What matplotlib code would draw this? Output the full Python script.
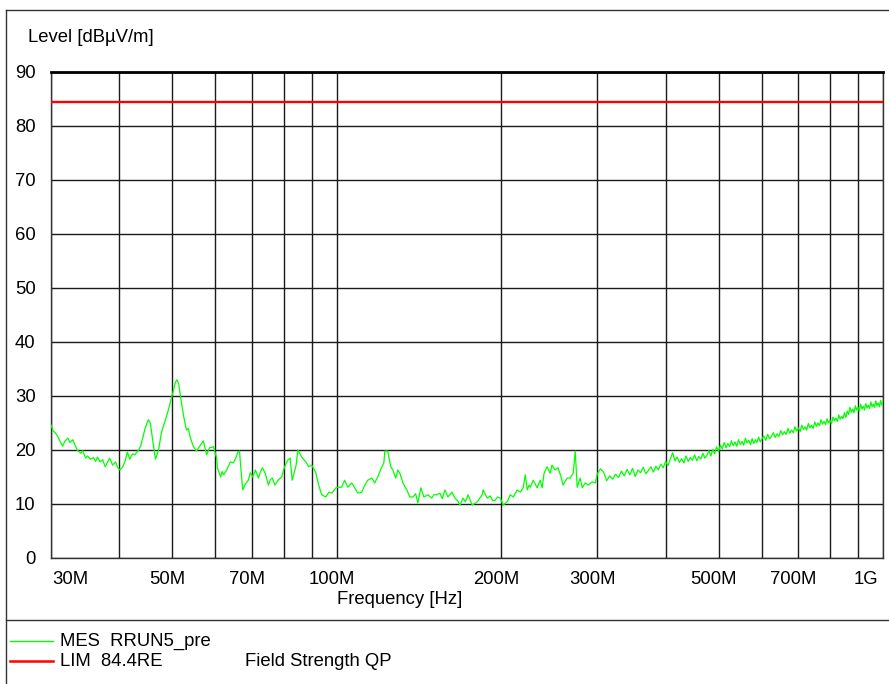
import numpy as np
import matplotlib.pyplot as plt
from matplotlib.lines import Line2D
from matplotlib.transforms import ScaledTranslation

plt.rcParams['font.family'] = ['Liberation Sans', 'DejaVu Sans']

# Measured trace, 30 MHz .. 100 MHz
freq_low = [30.0, 30.3, 30.6, 30.9, 31.2, 31.5, 31.8, 32.2, 32.5, 32.9, 33.2, 33.5, 34.0, 34.3,
            34.7, 35.0, 35.4, 35.9, 36.2, 36.5, 36.9, 37.3, 37.7, 38.0, 38.4, 38.9, 39.4, 39.7,
            40.1, 40.6, 41.0, 41.4, 41.8, 42.3, 42.7, 43.4, 43.8, 44.2, 44.6, 45.2, 45.6, 46.1,
            46.6, 47.2, 47.8, 48.6, 49.2, 49.9, 50.7, 51.0, 51.4, 51.8, 52.5, 53.1, 53.5, 54.0,
            54.7, 55.4, 56.3, 57.0, 57.8, 58.5, 59.5, 60.3, 60.5, 61.3, 61.7, 62.1, 62.9, 63.9,
            64.7, 65.3, 65.9, 66.4, 66.7, 67.3, 68.0, 68.9, 69.5, 70.2, 71.0, 71.9, 72.5, 73.1,
            74.0, 75.0, 75.6, 76.2, 77.1, 78.1, 79.3, 80.3, 81.3, 82.2, 82.9, 84.3, 84.9, 86.3,
            87.8, 88.9, 90.0, 91.5, 92.7, 93.9, 95.5, 96.8, 98.0, 99.7]
level_low = [24.6, 23.5, 23.1, 22.4, 21.5, 20.7, 21.6, 22.2, 21.4, 21.9, 20.9, 20.0, 19.4, 19.9,
             18.5, 18.9, 18.3, 18.6, 17.9, 18.7, 17.8, 18.2, 16.9, 17.6, 18.5, 17.2, 17.8, 16.8,
             16.3, 16.9, 18.0, 19.6, 18.3, 19.3, 19.1, 20.0, 20.8, 22.4, 24.0, 25.6, 25.0, 21.5,
             18.3, 20.0, 23.3, 25.6, 27.4, 29.8, 32.6, 33.0, 32.2, 29.8, 26.1, 23.7, 24.0, 22.2,
             20.6, 19.8, 20.9, 21.7, 19.1, 20.4, 20.6, 18.5, 16.7, 15.0, 16.0, 15.4, 16.3, 17.8,
             17.6, 18.4, 19.6, 19.8, 17.2, 12.6, 13.6, 14.4, 15.8, 15.0, 16.3, 14.8, 15.9, 16.7,
             15.7, 13.5, 14.5, 14.8, 13.5, 14.4, 15.0, 16.9, 18.1, 18.5, 14.4, 17.2, 20.0, 18.7,
             17.8, 16.9, 17.2, 15.9, 13.5, 11.7, 11.3, 12.2, 12.0, 13.0]

# 100 MHz .. 300 MHz
freq_mid = [100.5, 102.1, 103.4, 104.8, 106.5, 107.9, 109.3, 111.1, 112.6, 114.0, 116.0, 117.4,
            118.9, 121.0, 122.0, 122.5, 124.0, 125.6, 126.7, 128.3, 129.4, 130.5, 132.2, 134.4,
            136.1, 137.9, 139.5, 140.8, 142.6, 144.4, 146.9, 149.3, 150.6, 152.5, 154.5, 156.0,
            157.8, 159.8, 162.5, 164.6, 166.5, 168.1, 170.3, 172.0, 174.0, 177.0, 180.8, 182.5,
            184.6, 185.4, 188.6, 191.0, 193.0, 195.1, 197.0, 199.2, 201.8, 205.2, 207.8, 210.5,
            214.0, 216.8, 219.5, 221.4, 223.3, 225.1, 226.1, 229.0, 232.8, 235.8, 237.7, 239.7,
            242.7, 245.9, 247.8, 251.0, 254.2, 257.5, 259.6, 264.1, 267.5, 271.0, 273.3, 275.6,
            279.1, 281.5, 285.1, 288.7, 293.7, 297.5]
level_mid = [13.1, 13.1, 14.4, 13.1, 13.9, 13.0, 12.0, 12.2, 13.5, 14.4, 14.8, 13.9,
             15.0, 16.9, 17.6, 19.8, 19.8, 16.9, 16.3, 14.8, 16.3, 15.7, 13.9, 12.6,
             11.3, 11.3, 11.9, 10.2, 13.0, 11.3, 11.7, 11.1, 11.7, 11.7, 12.0, 11.0,
             12.6, 11.3, 12.2, 11.1, 10.6, 9.8, 11.1, 10.4, 11.7, 9.8, 10.4, 11.0,
             11.7, 12.6, 11.1, 11.5, 10.6, 10.7, 11.3, 11.1, 9.8, 10.4, 11.7, 11.3,
             12.6, 12.2, 13.0, 15.4, 12.6, 13.5, 13.1, 14.4, 13.0, 14.4, 13.0, 15.7,
             16.9, 15.7, 17.2, 16.3, 16.7, 15.0, 13.5, 14.8, 14.8, 15.7, 19.8, 13.1,
             14.8, 13.0, 13.9, 13.5, 14.1, 13.9]

# 300 MHz .. 600 MHz, 4 MHz steps
freq_high = [300, 304, 308, 312, 316, 320, 324, 328, 332, 336, 340, 344, 348, 352, 356, 360,
             364, 368, 372, 376, 380, 384, 388, 392, 396, 400, 404, 408, 412, 416, 420, 424,
             428, 432, 436, 440, 444, 448, 452, 456, 460, 464, 468, 472, 476, 480, 484, 488,
             492, 496, 500, 504, 508, 512, 516, 520, 524, 528, 532, 536, 540, 544, 548, 552,
             556, 560, 564, 568, 572, 576, 580, 584, 588, 592, 596]
level_high = [15.6, 16.5, 15.9, 14.3, 15.2, 14.6, 15.5, 14.9, 16.1, 15.2, 16.4, 15.4, 16.6, 15.1,
              16.3, 15.8, 16.8, 15.6, 16.2, 16.9, 15.9, 17.0, 16.3, 17.4, 16.7, 17.9, 17.1, 18.3,
              19.5, 18.0, 18.7, 17.7, 18.4, 17.6, 18.9, 17.9, 18.6, 18.1, 19.1, 18.0, 18.8, 18.3,
              19.4, 18.5, 19.0, 19.9, 18.9, 20.1, 19.3, 20.6, 19.7, 20.9, 20.2, 21.4, 20.4, 21.2,
              20.6, 21.7, 20.8, 21.5, 20.7, 21.9, 21.0, 21.6, 20.9, 22.2, 21.3, 21.8, 21.0, 22.1,
              21.2, 21.9, 21.4, 22.4, 21.5]

# 600 MHz .. 1 GHz, 5 MHz steps
freq_top = [600, 605, 610, 615, 620, 625, 630, 635, 640, 645, 650, 655, 660, 665, 670, 675,
            680, 685, 690, 695, 700, 705, 710, 715, 720, 725, 730, 735, 740, 745, 750, 755,
            760, 765, 770, 775, 780, 785, 790, 795, 800, 805, 810, 815, 820, 825, 830, 835,
            840, 845, 850, 855, 860, 865, 870, 875, 880, 885, 890, 895, 900, 905, 910, 915,
            920, 925, 930, 935, 940, 945, 950, 955, 960, 965, 970, 975, 980, 985, 990, 995,
            1000]
level_top = [22.0, 22.6, 21.8, 22.9, 22.1, 22.5, 23.2, 22.3, 23.0, 22.5, 23.6, 22.8, 23.4, 22.9,
             24.0, 23.1, 23.7, 23.2, 24.3, 23.5, 24.1, 23.4, 24.6, 23.8, 24.3, 23.7, 24.9, 24.1,
             24.6, 24.0, 25.2, 24.4, 25.0, 24.5, 25.6, 24.8, 25.3, 24.7, 25.8, 25.0, 25.5, 24.9,
             26.1, 25.4, 25.9, 25.3, 26.5, 25.7, 26.2, 25.8, 26.9, 26.0, 27.2, 26.6, 27.9, 27.0,
             27.6, 26.9, 28.2, 27.4, 27.9, 27.2, 28.5, 27.6, 28.1, 27.4, 28.6, 27.8, 28.3, 27.7,
             28.9, 28.0, 28.5, 27.9, 29.1, 28.2, 28.7, 28.0, 29.2, 28.3, 28.8]

limit_level = 84.4

grid_mhz = [30, 40, 50, 60, 70, 80, 90, 100, 200, 300, 400, 500, 600, 700, 800, 900, 1000]
grid_labels = ['30M', '', '50M', '', '70M', '', '', '100M', '200M', '300M', '',
               '500M', '', '700M', '', '', '1G']
y_ticks = [0, 10, 20, 30, 40, 50, 60, 70, 80, 90]

freq_hz = np.array(freq_low + freq_mid + freq_high + freq_top) * 1e6
level = np.array(level_low + level_mid + level_high + level_top)

FS = 13.3
W, H = 889, 684
fig = plt.figure(figsize=(W / 100, H / 100), dpi=100)
ax = fig.add_axes([51 / W, 1 - 558 / H, (883 - 51) / W, (558 - 72) / H])

ax.set_xscale('log')
ax.plot(freq_hz, level, color='#00ff00', lw=0.9, zorder=3)
ax.axhline(limit_level, color='#ff0000', lw=1.7, zorder=4)

ax.set_xlim(30e6, 1e9)
ax.set_ylim(0, 90)
ax.set_xticks(np.array(grid_mhz) * 1e6)
ax.set_xticklabels(grid_labels)
ax.xaxis.set_minor_locator(plt.NullLocator())
ax.set_yticks(y_ticks)
ax.set_axisbelow(True)
ax.grid(True, color='#1a1a1a', lw=1.0)
ax.tick_params(length=0, labelsize=FS)
ax.tick_params(axis='x', pad=9)
ax.tick_params(axis='y', pad=11)

for side in ['left', 'right', 'bottom']:
    ax.spines[side].set_color('#333333')
    ax.spines[side].set_linewidth(1.0)
ax.spines['top'].set_color('black')
ax.spines['top'].set_linewidth(2.0)

# shift tick labels a little left, keep the end labels inside the axis
shift = ScaledTranslation(-5 / 100, 0, fig.dpi_scale_trans)
xlabels = ax.get_xticklabels()
for lab in xlabels:
    lab.set_transform(lab.get_transform() + shift)
xlabels[0].set_horizontalalignment('left')
xlabels[0].set_transform(xlabels[0].get_transform() + ScaledTranslation(6 / 100, 0, fig.dpi_scale_trans))
xlabels[-1].set_horizontalalignment('right')

fig.text(28 / W, 1 - 38 / H, 'Level [dBµV/m]', fontsize=FS, ha='left', va='center')
fig.text(400 / W, 1 - 600 / H, 'Frequency [Hz]', fontsize=FS, ha='center', va='center')

# page frame and legend separator
frame_kw = dict(transform=fig.transFigure, color='#333333', lw=1.0)
fig.add_artist(Line2D([6 / W, 6 / W], [0, 1 - 10 / H], **frame_kw))
fig.add_artist(Line2D([6 / W, 1], [1 - 10 / H, 1 - 10 / H], **frame_kw))
fig.add_artist(Line2D([6 / W, 1], [1 - 620 / H, 1 - 620 / H], **frame_kw))

# legend
fig.add_artist(Line2D([10 / W, 53 / W], [1 - 641 / H, 1 - 641 / H],
                      transform=fig.transFigure, color='#00ff00', lw=1.0))
fig.add_artist(Line2D([10 / W, 53 / W], [1 - 661 / H, 1 - 661 / H],
                      transform=fig.transFigure, color='#ff0000', lw=1.8))
fig.text(60 / W, 1 - 641 / H, 'MES  RRUN5_pre', fontsize=FS, ha='left', va='center')
fig.text(60 / W, 1 - 661 / H, 'LIM  84.4RE', fontsize=FS, ha='left', va='center')
fig.text(245 / W, 1 - 661 / H, 'Field Strength QP', fontsize=FS, ha='left', va='center')

fig.savefig('out.png', dpi=100)
